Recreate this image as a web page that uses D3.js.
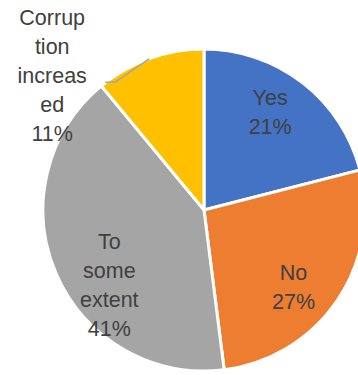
<!DOCTYPE html>
<html>
<head>
<meta charset="utf-8">
<script src="https://cdn.jsdelivr.net/npm/d3@7/dist/d3.min.js"></script>
<style>
  html, body { margin: 0; padding: 0; background: #fff; }
  svg { display: block; }
</style>
</head>
<body>
<svg id="chart" width="358" height="375"></svg>
<script>
// Survey answers, clockwise from 12 o'clock
const categories = ["Yes", "No", "To some extent", "Corruption increased"];
const shares = [21, 27, 41, 11];
// Wrapped label lines for each slice
const labelLines = [
  ["Yes"],
  ["No"],
  ["To", "some", "extent"],
  ["Corrup", "tion", "increas", "ed"]
];
const colors = ["#4472C4", "#ED7D31", "#A5A5A5", "#FFC000"];

// Label placement: distance from centre and angular shift (degrees) from slice middle
const labelRadius = [118, 118, 121, 203];
const labelShift = [-3.7, 6.4, -15.1, -28.6];

const width = 358, height = 375;
const cx = 204, cy = 210, radius = 161;
const lineGap = 29;

const svg = d3.select("#chart");
const g = svg.append("g").attr("transform", `translate(${cx},${cy})`);

const data = categories.map((c, i) => ({ name: c, value: shares[i], lines: labelLines[i], color: colors[i] }));

const pie = d3.pie().value(d => d.value).sort(null);
const arcs = pie(data);
const arc = d3.arc().innerRadius(0).outerRadius(radius);

g.selectAll("path.slice")
  .data(arcs)
  .join("path")
  .attr("class", "slice")
  .attr("d", arc)
  .attr("fill", d => d.data.color)
  .attr("stroke", "#fff")
  .attr("stroke-width", 3)
  .attr("stroke-linejoin", "round");

// polar helper: angle measured clockwise from 12 o'clock
const polar = (a, r) => [r * Math.sin(a), -r * Math.cos(a)];

const labelPos = arcs.map((d, i) => {
  const mid = (d.startAngle + d.endAngle) / 2 + labelShift[i] * Math.PI / 180;
  return polar(mid, labelRadius[i]);
});

// leader line for the outside label
arcs.forEach((d, i) => {
  if (labelRadius[i] <= radius) return;
  const mid = (d.startAngle + d.endAngle) / 2;
  const p0 = polar(mid, radius);
  const [lx, ly] = labelPos[i];
  const pts = [p0, [lx + 63, ly + 7], [lx + 53, ly + 7]];
  g.append("path")
    .attr("d", d3.line()(pts))
    .attr("fill", "none")
    .attr("stroke", "#A6A6A6")
    .attr("stroke-width", 1.5);
});

const labels = g.selectAll("text.lbl")
  .data(arcs)
  .join("text")
  .attr("class", "lbl")
  .attr("text-anchor", "middle")
  .attr("font-family", "'Liberation Sans', Arial, sans-serif")
  .attr("font-size", 21.5)
  .attr("fill", "#404040");

labels.each(function(d, i) {
  const lines = d.data.lines.concat([Math.round(d.data.value) + "%"]);
  const [x, y] = labelPos[i];
  const firstBaseline = y - (lines.length - 1) * lineGap / 2 + 7.5;
  d3.select(this).selectAll("tspan")
    .data(lines)
    .join("tspan")
    .attr("x", x)
    .attr("y", (t, k) => firstBaseline + k * lineGap)
    .text(t => t);
});
</script>
</body>
</html>
